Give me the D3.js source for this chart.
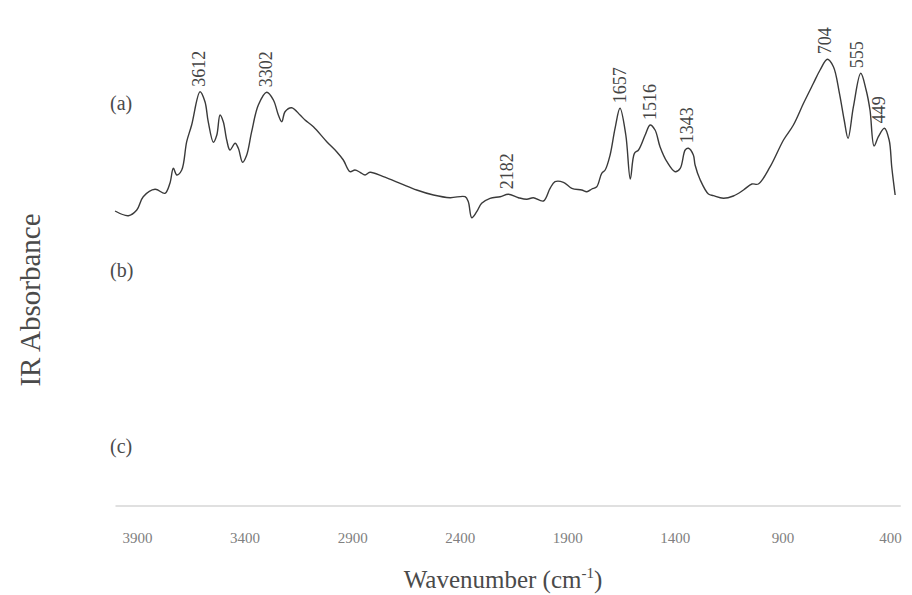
<!DOCTYPE html>
<html>
<head>
<meta charset="utf-8">
<script src="https://cdn.jsdelivr.net/npm/d3@7"></script>
<style>
  html, body { margin: 0; padding: 0; background: #fff; }
  svg { display: block; }
  text { font-family: "Liberation Serif", "DejaVu Serif", serif; }
</style>
</head>
<body>
<svg id="chart" width="912" height="595"></svg>
<script>
// ---- Data ----
const wavenumberA = [4002,3940,3901,3871,3816,3770,3747,3731,3715,3692,3669,3646,3607,3584,3569,3545,3529,3514,3499,3483,3468,3444,3429,3409,3390,3367,3336,3297,3266,3243,3227,3212,3181,3142,3119,3080,3018,2972,2941,2910,2887,2863,2840,2817,2755,2677,2600,2522,2445,2375,2360,2344,2321,2298,2259,2212,2174,2127,2088,2058,2011,1980,1957,1918,1879,1833,1809,1786,1763,1740,1724,1701,1678,1655,1628,1607,1588,1569,1538,1515,1492,1469,1437,1399,1375,1352,1337,1314,1306,1282,1244,1221,1174,1128,1081,1042,1012,957,895,849,802,756,725,691,663,635,613,595,570,536,511,493,474,454,426,404,392,381,376];
const absorbanceA = [0.09,0.043,0.10,0.233,0.307,0.267,0.367,0.517,0.45,0.50,0.783,0.95,1.283,1.183,0.983,0.777,0.85,1.05,0.983,0.80,0.70,0.767,0.717,0.577,0.65,0.883,1.15,1.277,1.20,1.05,0.983,1.083,1.123,1.05,1.00,0.933,0.783,0.683,0.60,0.483,0.50,0.477,0.45,0.477,0.433,0.367,0.30,0.25,0.223,0.233,0.183,0.023,0.083,0.167,0.217,0.233,0.257,0.223,0.207,0.223,0.19,0.317,0.383,0.377,0.317,0.30,0.283,0.31,0.333,0.467,0.50,0.65,0.917,1.117,0.85,0.41,0.667,0.70,0.85,0.95,0.90,0.733,0.583,0.483,0.517,0.70,0.717,0.65,0.55,0.40,0.26,0.243,0.217,0.24,0.30,0.36,0.36,0.533,0.80,0.95,1.167,1.367,1.50,1.607,1.533,1.267,1.00,0.817,1.133,1.467,1.30,1.10,0.74,0.833,0.917,0.80,0.533,0.333,0.25];

// faint, almost invisible trace of spectrum (c)
const wavenumberC = [4000,3500,3000,2500,2000,1500,1000,500,350];
const absorbanceC = [0.0,0.0,0.0,0.0,0.0,0.0,0.0,0.0,0.0];

const peakLabels = [3612,3302,2182,1657,1516,1343,704,555,449];
const tickValues = [3900,3400,2900,2400,1900,1400,900,400];
const panelLabels = ["(a)","(b)","(c)"];

// ---- Layout ----
const svg = d3.select("#chart");
const x = d3.scaleLinear().domain([3900, 400]).range([137, 890]);
const yA = d3.scaleLinear().domain([0, 1.6]).range([220, 60]);
const yC = d3.scaleLinear().domain([0, 1]).range([506, 406]);

const ptsA = wavenumberA.map((w, i) => [w, absorbanceA[i]]);
const ptsC = wavenumberC.map((w, i) => [w, absorbanceC[i]]);

// spectrum (c) faint baseline
svg.append("path")
  .datum(ptsC)
  .attr("fill", "none")
  .attr("stroke", "#d6d6d6")
  .attr("stroke-width", 1.6)
  .attr("d", d3.line().x(d => x(d[0])).y(d => yC(d[1])));

// spectrum (a)
svg.append("path")
  .datum(ptsA)
  .attr("fill", "none")
  .attr("stroke", "#3a3a3a")
  .attr("stroke-width", 1.4)
  .attr("stroke-linejoin", "round")
  .attr("d", d3.line().x(d => x(d[0])).y(d => yA(d[1])).curve(d3.curveCatmullRom.alpha(0.5)));

// peak labels: placed just above the local maximum of the trace
function localMax(w) {
  let best = -Infinity;
  ptsA.forEach(p => { if (Math.abs(p[0] - w) <= 25) best = Math.max(best, p[1]); });
  if (best === -Infinity) {
    const interp = d3.scaleLinear().domain(wavenumberA).range(absorbanceA);
    best = interp(w);
  }
  return best;
}
peakLabels.forEach(w => {
  const px = x(w), py = yA(localMax(w)) - 5;
  svg.append("text")
    .attr("transform", `translate(${px + 6},${py}) rotate(-90)`)
    .attr("font-size", 18)
    .attr("fill", "#444")
    .attr("text-anchor", "start")
    .text(w);
});

// panel labels
const panelY = [110, 277, 453];
panelLabels.forEach((t, i) => {
  svg.append("text")
    .attr("x", 110).attr("y", panelY[i])
    .attr("font-size", 20)
    .attr("fill", "#4a4a4a")
    .text(t);
});

// x axis (labels only)
const xAxis = d3.axisBottom(x).tickValues(tickValues).tickSize(0).tickPadding(0).tickFormat(d3.format("d"));
const gx = svg.append("g").attr("transform", "translate(0,543)").call(xAxis);
gx.attr("font-family", null);
gx.select(".domain").remove();
gx.selectAll("text")
  .style("font-family", "'Liberation Serif', serif")
  .attr("font-size", 15)
  .attr("fill", "#808080")
  .attr("y", 0)
  .attr("dy", 0);

// axis titles
svg.append("text")
  .attr("transform", "translate(40,300) rotate(-90)")
  .attr("text-anchor", "middle")
  .attr("font-size", 29)
  .attr("fill", "#4a4a4a")
  .text("IR Absorbance");

const xt = svg.append("text")
  .attr("x", 503).attr("y", 588)
  .attr("text-anchor", "middle")
  .attr("font-size", 25)
  .attr("fill", "#4a4a4a");
xt.append("tspan").text("Wavenumber (cm");
xt.append("tspan").attr("dy", -10).attr("font-size", 15).text("-1");
xt.append("tspan").attr("dy", 10).text(")");
</script>
</body>
</html>
